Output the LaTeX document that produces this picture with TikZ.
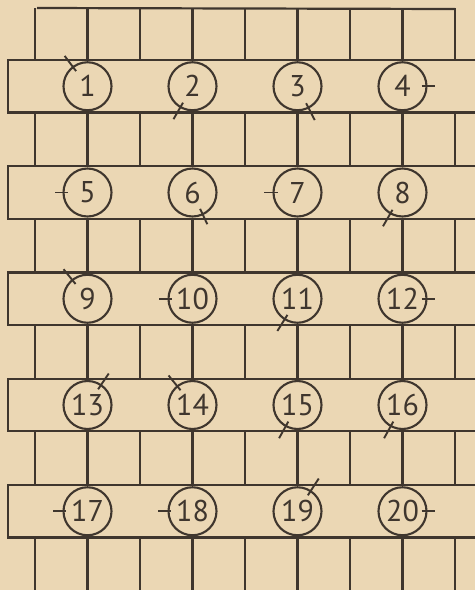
\documentclass[tikz,border=0pt]{standalone}
\usepackage{fontspec}
\setmainfont{PT Sans}
\definecolor{paper}{HTML}{EBD7B4}
\definecolor{ink}{HTML}{3F362E}
\begin{document}
\begin{tikzpicture}[x=1pt,y=-1pt,
  gridline/.style={draw=ink,line width=2.2pt},
  numc/.style={draw=ink,line width=2.1pt,circle,minimum size=48pt,inner sep=0pt,
    text=ink,font=\fontsize{30}{30}\selectfont},
  tickmark/.style={draw=ink,line width=1.9pt}]
\fill[paper] (0,0) rectangle (475,590);
\useasboundingbox (0,0) rectangle (475,590);
% top line
\draw[gridline] (37,8) -- (455,9);
% bands
\foreach \t in {60,166.25,272.5,378.75,485}{
  \draw[gridline] (475,\t) -- (8,\t) -- (8,\t+52.5) -- (475,\t+52.5);
}
% vertical lines between bands
\foreach \a/\b in {8/60,112.5/166.25,218.75/272.5,325/378.75,431.25/485,537.5/590}{
  \foreach \x in {35,87.5,140,192.5,245,297.5,350,402.5,455}{
    \draw[gridline] (\x,\a) -- (\x,\b);
  }
}
% numbered circles
\foreach \r [count=\i from 0] in {86.25,192.5,298.75,405,511.25}{
  \foreach \x [count=\j from 1] in {87.5,192.5,297.5,402.5}{
    \pgfmathtruncatemacro\n{4*\i+\j}
    \node[numc] (n\n) at (\x,\r) {\n};
  }
}
% tick marks
\foreach \n/\ang/\ri/\ro in {1/127/19/38, 2/240/19/38, 3/297/19/38, 4/0/19/32,
  5/180/20/33, 6/295/18/35, 7/180/20/34, 8/240/20/39,
  9/129/19/38, 10/180/21/34, 11/238/19/38, 12/0/19/32,
  13/56/19/38, 14/129/19/38, 15/241/19/38, 16/241/19/38,
  17/180/22/35, 18/180/22/35, 19/57/19/39, 20/0/19/32}{
  \draw[tickmark] ([shift={(\ang:\ri pt)}]n\n.center) -- ([shift={(\ang:\ro pt)}]n\n.center);
}
\end{tikzpicture}
\end{document}
